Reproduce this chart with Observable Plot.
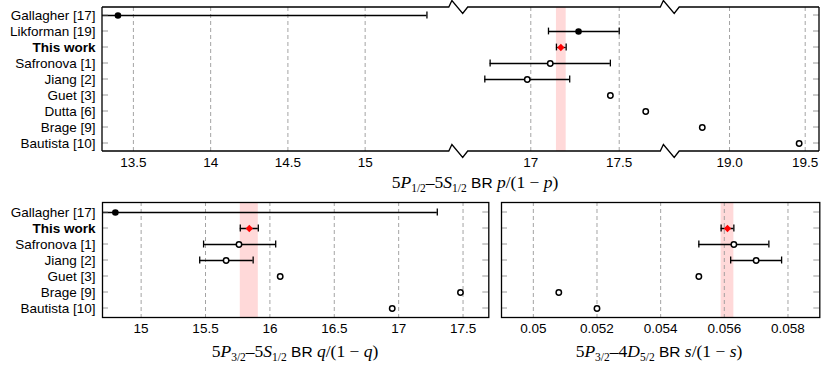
<!DOCTYPE html>
<html><head><meta charset="utf-8">
<script src="https://cdn.jsdelivr.net/npm/d3@7"></script>
<script src="https://cdn.jsdelivr.net/npm/@observablehq/plot@0.6"></script>
<style>
body{margin:0;background:white;}
#chart{position:relative;width:831px;height:367px;overflow:hidden;font-family:"Liberation Sans",Arial,sans-serif;background:white;}
#chart .panel{position:absolute;}
.xl{position:absolute;transform:translateX(-50%);white-space:nowrap;font-size:15.5px;line-height:18px;color:#000;}
.xl .m{font-family:"Liberation Serif","DejaVu Serif",serif;font-size:17.5px;}
.xl sub{font-size:11.5px;vertical-align:-3.5px;line-height:0;}
</style></head><body><div id="chart"></div>
<script>
// ---------- data: 5P1/2-5S1/2 branching ratio p/(1-p) ----------
const pNames = ["Gallagher [17]","Likforman [19]","This work","Safronova [1]","Jiang [2]","Guet [3]","Dutta [6]","Brage [9]","Bautista [10]"];
const pKinds = ["exp","exp","this","theory","theory","theory","theory","theory","theory"];
const pValues = [13.40, 17.27, 17.17, 17.11, 16.98, 17.45, 17.65, 18.82, 19.46];
const pLow  = [11.40, 17.10, 17.145, 16.77, 16.74, null, null, null, null];
const pHigh = [15.40, 17.50, 17.20, 17.45, 17.22, null, null, null, null];
const pTicks = [13.5, 14, 14.5, 15, 17, 17.5, 19.0, 19.5];
const pTickLabels = ["13.5","14","14.5","15","17","17.5","19.0","19.5"];
const pSegments = [[13.3, 15.6075], [16.594, 17.79], [18.61, 19.5945]];

// ---------- data: 5P3/2-5S1/2 branching ratio q/(1-q) ----------
const qNames = ["Gallagher [17]","This work","Safronova [1]","Jiang [2]","Guet [3]","Brage [9]","Bautista [10]"];
const qKinds = ["exp","this","theory","theory","theory","theory","theory"];
const qValues = [14.80, 15.84, 15.76, 15.66, 16.08, 17.48, 16.95];
const qLow  = [12.30, 15.77, 15.485, 15.455, null, null, null];
const qHigh = [17.30, 15.91, 16.045, 15.87, null, null, null];
const qTicks = [15, 15.5, 16, 16.5, 17, 17.5];
const qDomain = [14.7, 17.7];

// ---------- data: 5P3/2-4D5/2 branching ratio s/(1-s) ----------
const sValues = [null, 0.0561, 0.0563, 0.0570, 0.0552, 0.0508, 0.0520];
const sLow  = [null, 0.0559, 0.0552, 0.0562, null, null, null];
const sHigh = [null, 0.0563, 0.0574, 0.0578, null, null, null];
const sTicks = [0.05, 0.052, 0.054, 0.056, 0.058];
const sTickLabels = ["0.05","0.052","0.054","0.056","0.058"];
const sDomain = [0.049, 0.059];

// ---------- helpers ----------
const FONT = '"Liberation Sans", Arial, sans-serif';
const zip = (names, kinds, values, lo, hi) =>
  names.map((name, i) => ({name, kind: kinds[i], value: values[i], lo: lo[i], hi: hi[i]}));

const pRows = zip(pNames, pKinds, pValues, pLow, pHigh);
const qRows = zip(qNames, qKinds, qValues, qLow, qHigh);
const sRows = zip(qNames, qKinds, sValues, sLow, sHigh);

function bandMark(rows) {
  return Plot.rect(rows.filter(d => d.kind === "this"), {x1: "lo", x2: "hi", fill: "#ffd9d9"});
}
function gridMark(ticks) {
  return Plot.gridX(ticks, {stroke: "#9a9a9a", strokeOpacity: 1, strokeWidth: 0.9, strokeDasharray: "4,3"});
}
function dataMarks(rows) {
  const e = rows.filter(d => d.lo != null && d.hi != null);
  const v = rows.filter(d => d.value != null);
  const cap = {y: "name", insetTop: 4.6, insetBottom: 4.6, stroke: "black", strokeWidth: 1.3, clip: true};
  return [
    Plot.ruleY(e, {y: "name", x1: "lo", x2: "hi", stroke: "black", strokeWidth: 1.3, clip: true}),
    Plot.tickX(e, {x: "lo", ...cap}),
    Plot.tickX(e, {x: "hi", ...cap}),
    Plot.dot(v.filter(d => d.kind === "exp"), {x: "value", y: "name", r: 3.3, fill: "black", stroke: "none"}),
    Plot.dot(v.filter(d => d.kind === "theory"), {x: "value", y: "name", r: 2.7, fill: "white", stroke: "black", strokeWidth: 1.5}),
    Plot.dot(v.filter(d => d.kind === "this"), {x: "value", y: "name", symbol: "diamond2", r: 3.3, fill: "red", stroke: "none"})
  ];
}
function rowTicks(names) {
  return (index, scales, values, dims) => {
    const L = dims.marginLeft, R = dims.width - dims.marginRight;
    const bw = scales.y.bandwidth ? scales.y.bandwidth() : 0;
    const g = d3.create("svg:g").attr("stroke", "#808080").attr("stroke-width", 0.8);
    for (const n of names) {
      const y = scales.y(n) + bw / 2;
      g.append("line").attr("x1", L).attr("x2", L + 6).attr("y1", y).attr("y2", y);
      g.append("line").attr("x1", R - 6).attr("x2", R).attr("y1", y).attr("y2", y);
    }
    return g.node();
  };
}
function brokenFrame(breaks) {
  return (index, scales, values, dims) => {
    const L = dims.marginLeft, R = dims.width - dims.marginRight;
    const T = dims.marginTop, B = dims.height - dims.marginBottom;
    const bx = breaks.map(b => scales.x(b));
    const edge = y => {
      let d = `M${L},${y}`;
      for (const b of bx) d += `H${b - 9.7}L${b - 6.6},${y - 6.5}L${b + 4.2},${y + 6.5}L${b + 9.2},${y}`;
      return d + `H${R}`;
    };
    const g = d3.create("svg:g").attr("fill", "none").attr("stroke", "black").attr("stroke-width", 1.3);
    g.append("path").attr("d", edge(T));
    g.append("path").attr("d", edge(B));
    g.append("path").attr("d", `M${L},${T}V${B}M${R},${T}V${B}`);
    return g.node();
  };
}
function yLabels(names) {
  return [
    Plot.axisY(names.filter(n => n !== "This work"), {tickSize: 0, tickPadding: 7, fontSize: 13.5, label: null}),
    Plot.axisY(["This work"], {tickSize: 0, tickPadding: 7, fontSize: 13.5, fontWeight: "bold", label: null})
  ];
}
function xLabels(ticks, labels) {
  return Plot.axisX(ticks, {tickSize: 0, tickPadding: 6, fontSize: 13.5, label: null,
    tickFormat: d => labels[ticks.indexOf(d)]});
}

const chart = document.getElementById("chart");
function place(node, left, top) {
  const wrap = document.createElement("div");
  wrap.className = "panel";
  wrap.style.left = left + "px";
  wrap.style.top = top + "px";
  wrap.appendChild(node);
  chart.appendChild(wrap);
}
function label(html, cx, top) {
  const d = document.createElement("div");
  d.className = "xl";
  d.style.left = cx + "px";
  d.style.top = top + "px";
  d.innerHTML = html;
  chart.appendChild(d);
}

// ---------- top panel (broken axis) ----------
const topW = 831, topH = 195, topML = 102, topMR = 12;
const pDomain = pSegments.flat();
const segPx = [topML, 458.5, 670, topW - topMR];
const pRange = [segPx[0], segPx[1], segPx[1], segPx[2], segPx[2], segPx[3]];

const topPlot = Plot.plot({
  width: topW, height: topH, marginLeft: topML, marginRight: topMR, marginTop: 7, marginBottom: 44,
  style: {fontFamily: FONT, fontSize: "13.5px", background: "transparent", overflow: "visible"},
  x: {type: "linear", domain: pDomain, range: pRange},
  y: {type: "band", domain: pNames, padding: 0},
  marks: [
    bandMark(pRows),
    gridMark(pTicks),
    ...dataMarks(pRows),
    rowTicks(pNames),
    brokenFrame([pSegments[0][1], pSegments[2][0]]),
    ...yLabels(pNames),
    xLabels(pTicks, pTickLabels)
  ]
});
place(topPlot, 0, 0);

// ---------- bottom-left panel ----------
const blPlot = Plot.plot({
  width: 495, height: 172, marginLeft: 102, marginRight: 6.7, marginTop: 7, marginBottom: 50,
  style: {fontFamily: FONT, fontSize: "13.5px", background: "transparent", overflow: "visible"},
  x: {type: "linear", domain: qDomain},
  y: {type: "band", domain: qNames, padding: 0},
  marks: [
    bandMark(qRows),
    gridMark(qTicks),
    ...dataMarks(qRows),
    rowTicks(qNames),
    Plot.frame({stroke: "black", strokeWidth: 1.3}),
    ...yLabels(qNames),
    xLabels(qTicks, qTicks.map(String))
  ]
});
place(blPlot, 0, 195);

// ---------- bottom-right panel ----------
const brPlot = Plot.plot({
  width: 336, height: 172, marginLeft: 6, marginRight: 11.7, marginTop: 7, marginBottom: 50,
  style: {fontFamily: FONT, fontSize: "13.5px", background: "transparent", overflow: "visible"},
  x: {type: "linear", domain: sDomain},
  y: {type: "band", domain: qNames, padding: 0, axis: null},
  marks: [
    bandMark(sRows),
    gridMark(sTicks),
    ...dataMarks(sRows),
    rowTicks(qNames),
    Plot.frame({stroke: "black", strokeWidth: 1.3}),
    xLabels(sTicks, sTickLabels)
  ]
});
place(brPlot, 495, 195);

// ---------- axis titles ----------
label('<span class="m">5<i>P</i><sub>1/2</sub>–5<i>S</i><sub>1/2</sub></span> BR <span class="m"><i>p</i>/(1 − <i>p</i>)</span>', 475, 173);
label('<span class="m">5<i>P</i><sub>3/2</sub>–5<i>S</i><sub>1/2</sub></span> BR <span class="m"><i>q</i>/(1 − <i>q</i>)</span>', 295, 342);
label('<span class="m">5<i>P</i><sub>3/2</sub>–4<i>D</i><sub>5/2</sub></span> BR <span class="m"><i>s</i>/(1 − <i>s</i>)</span>', 659, 342);
</script>
</body></html>
